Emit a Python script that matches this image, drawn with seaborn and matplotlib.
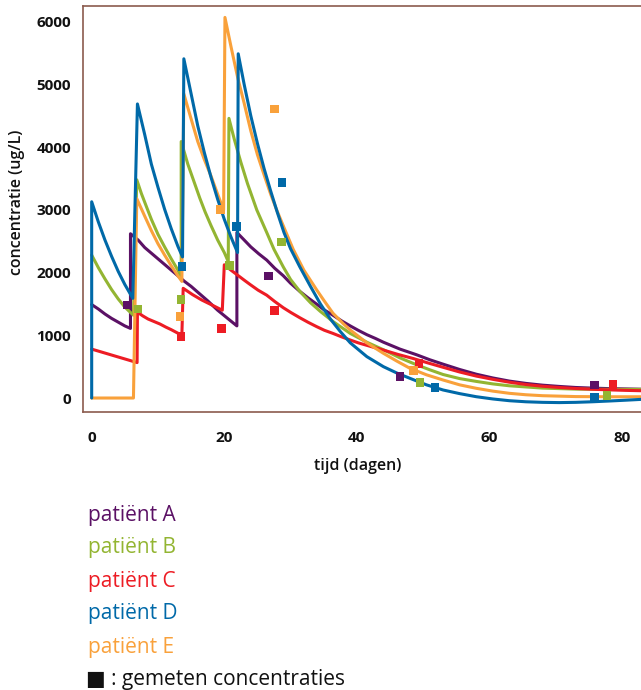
import matplotlib
matplotlib.use("Agg")
import matplotlib.pyplot as plt
import pandas as pd
import seaborn as sns

# ---------------- data ----------------
patients = ["patiënt A", "patiënt B", "patiënt C", "patiënt D", "patiënt E"]
colors = ["#5b1165", "#93b532", "#ed1c24", "#0069a8", "#f9a13b"]

# model curves (time in days, concentration in ug/L)
a_t = [0, 1, 2, 3, 4, 5, 5.85,
       5.85, 7, 8, 9, 10, 11, 12, 13, 14, 15, 16.3, 17.5, 19, 20.5, 21.9,
       21.9, 23, 24, 25.2, 26.4, 27.6, 28.9, 30, 31.4, 32.6, 33.9, 35, 36.4,
       37.7, 39, 40.2, 41.5, 42.8, 44, 46.5, 49, 51, 53, 55.5, 58, 60.5, 63,
       65.5, 68, 70.5, 73, 75.5, 78, 80.5, 83]
a_c = [1490, 1420, 1340, 1270, 1210, 1150, 1110,
       2620, 2520, 2400, 2310, 2220, 2130, 2040, 1950, 1860, 1780, 1660, 1550,
       1400, 1270, 1150,
       2640, 2520, 2410, 2300, 2200, 2070, 1950, 1830, 1700, 1600, 1500, 1410,
       1320, 1230, 1150, 1080, 1010, 950, 890, 780, 690, 610, 540, 455, 380,
       320, 270, 233, 205, 185, 168, 158, 150, 145, 140]

b_t = [0, 1, 2, 3, 4, 5, 6.3,
       6.8, 7.5, 8.3, 9, 10, 11, 12, 13, 13.5,
       13.5, 14.5, 15.5, 16.3, 17.1, 18, 19, 20, 20.6,
       20.7, 21.5, 22.5, 23.5, 24.9, 26.4, 27.5, 28.9, 30, 31.4, 33, 34.5,
       36.4, 39, 41.5, 44, 46.5, 49, 51, 53, 55.5, 58, 60.5, 63, 68, 73, 78, 83]
b_c = [2280, 2080, 1900, 1730, 1580, 1450, 1320,
       3480, 3260, 3040, 2850, 2610, 2410, 2220, 2040, 1910,
       4090, 3730, 3430, 3190, 2970, 2750, 2520, 2320, 2175,
       4460, 4130, 3760, 3420, 3000, 2640, 2370, 2090, 1890, 1700, 1520, 1380,
       1220, 1030, 890, 770, 640, 530, 450, 375, 310, 265, 225, 195, 158, 142,
       138, 137]

c_t = [0, 3.5, 6.85,
       6.9, 7.7, 8.5, 9.4, 10.3, 11.2, 12, 12.8, 13.6,
       13.8, 15.2, 16.6, 18.2, 19.7,
       20.0, 21, 22, 23, 23.9, 25.1, 26.4, 27.6, 28.9, 30.1, 31.4, 32.6, 33.9,
       35.1, 36.4, 37.7, 39, 40.2, 41.5, 42.8, 44, 46.2, 48.5, 50.7, 53, 55.5,
       58, 60.5, 63, 65.5, 68, 70.5, 73, 75.5, 78, 80.5, 83]
c_c = [780, 670, 565,
       1370, 1310, 1260, 1220, 1180, 1130, 1090, 1045, 1000,
       1750, 1650, 1563, 1480, 1400,
       2125, 2040, 1960, 1880, 1810, 1720, 1640, 1540, 1440, 1360, 1280, 1210,
       1140, 1080, 1030, 975, 925, 880, 840, 800, 765, 695, 630, 560, 490, 415,
       350, 298, 252, 215, 188, 168, 152, 140, 130, 122, 116]

d_t = [0, 0, 1, 2, 3, 4, 5, 6.2,
       6.9, 8, 9, 10, 11, 12, 13, 13.7,
       13.9, 15, 16, 17, 18, 19, 20, 21, 22.0,
       22.1, 23, 24, 25, 26, 27, 28, 29, 30, 31.4, 33, 34.5, 36, 37.5, 39,
       41.5, 44, 46, 48, 50.5, 53, 55.5, 58, 60.5, 63, 65.5, 68, 70.5, 73,
       75.5, 78, 80.5, 83]
d_c = [0, 3130, 2810, 2520, 2260, 2020, 1810, 1590,
       4690, 4200, 3730, 3360, 3010, 2700, 2420, 2250,
       5410, 4850, 4340, 3910, 3520, 3170, 2850, 2570, 2320,
       5490, 5000, 4500, 4060, 3660, 3300, 2960, 2640, 2380, 2090, 1780, 1500,
       1260, 1060, 880, 660, 500, 400, 314, 210, 128, 70, 21, -15, -43, -60,
       -69, -73, -69, -60, -48, -35, -21]

e_t = [0, 6.3,
       6.8, 8, 9, 10, 11, 12, 13, 13.6,
       13.9, 15, 16, 17, 18, 19, 19.9,
       20.1, 21, 22, 23, 24, 25, 26, 27, 27.9, 29, 30.4, 32, 33.9, 35, 36.4,
       38, 39, 41.5, 44, 46, 48, 50.5, 53, 55.5, 58, 60.5, 63, 65.5, 68, 73,
       78, 83]
e_c = [0, 0,
       3180, 2900, 2670, 2460, 2280, 2110, 1950, 1860,
       4850, 4450, 4090, 3800, 3540, 3250, 3000,
       6070, 5610, 5120, 4700, 4260, 3880, 3560, 3250, 3000, 2720, 2370, 2040,
       1730, 1560, 1351, 1180, 1085, 880, 713, 590, 474, 370, 287, 210, 155,
       110, 75, 52, 37, 23, 20, 20]

# measured concentrations (squares)
ma_t = [5.4, 26.7, 46.5, 75.8]
ma_c = [1483, 1946, 340, 207]
mb_t = [7.0, 13.5, 20.8, 28.6, 49.5, 77.7]
mb_c = [1419, 1574, 2116, 2488, 244, 40]
mc_t = [13.5, 19.6, 27.6, 49.4, 78.6]
mc_c = [978, 1106, 1393, 553, 212]
md_t = [13.6, 21.8, 28.7, 51.8, 75.8]
md_c = [2094, 2732, 3434, 164, 5]
me_t = [13.3, 19.4, 27.6, 48.5]
me_c = [1297, 3010, 4609, 435]

x_ticks = [0, 20, 40, 60, 80]
y_ticks = [0, 1000, 2000, 3000, 4000, 5000, 6000]
x_label = "tijd (dagen)"
y_label = "concentratie (ug/L)"
footer = "\u25a0 : gemeten concentraties"

# ---------------- build tables ----------------
curves = {"patiënt A": (a_t, a_c), "patiënt B": (b_t, b_c), "patiënt C": (c_t, c_c),
          "patiënt D": (d_t, d_c), "patiënt E": (e_t, e_c)}
meas = {"patiënt A": (ma_t, ma_c), "patiënt B": (mb_t, mb_c), "patiënt C": (mc_t, mc_c),
        "patiënt D": (md_t, md_c), "patiënt E": (me_t, me_c)}
palette = dict(zip(patients, colors))

curve_df = pd.concat([pd.DataFrame({"t": t, "c": c, "patient": p}) for p, (t, c) in curves.items()],
                     ignore_index=True)
meas_df = pd.concat([pd.DataFrame({"t": t, "c": c, "patient": p}) for p, (t, c) in meas.items()],
                    ignore_index=True)

# ---------------- plot ----------------
sns.set_style("white")
plt.rcParams["font.family"] = ["Open Sans", "DejaVu Sans"]

W, H = 641, 690
fig = plt.figure(figsize=(W / 100, H / 100), dpi=100)
ax = fig.add_axes([83 / W, 1 - 412 / H, (W - 83) / W, (412 - 6) / H])

draw_order = ["patiënt A", "patiënt B", "patiënt C", "patiënt E", "patiënt D"]
for p in draw_order:
    sns.lineplot(data=curve_df[curve_df["patient"] == p], x="t", y="c",
                 color=palette[p], estimator=None, sort=False, linewidth=2.2,
                 ax=ax, legend=False)

sns.scatterplot(data=meas_df, x="t", y="c", hue="patient", palette=palette,
                marker="s", s=38, linewidth=0, ax=ax, legend=False, zorder=5)

ax.set_xlim(-1.31, 82.85)
ax.set_ylim(-223, 6252)
ax.set_xticks(x_ticks)
ax.set_yticks(y_ticks)

spine_col = "#8b5b4e"
for side in ["left", "bottom", "top"]:
    ax.spines[side].set_color(spine_col)
    ax.spines[side].set_linewidth(1.2)
ax.spines["right"].set_visible(False)

ax.tick_params(axis="both", direction="out", color=spine_col, width=1.1,
               labelcolor="#111111", labelsize=11)
ax.tick_params(axis="x", length=6.5, pad=7.5)
ax.tick_params(axis="y", length=5, pad=3.5)
for lab in ax.get_xticklabels() + ax.get_yticklabels():
    lab.set_fontweight("bold")

ax.set_xlabel(x_label, fontsize=11.5, fontweight="semibold", color="#111111")
ax.set_ylabel(y_label, fontsize=11.5, fontweight="semibold", color="#111111")
ax.xaxis.label.set_va("center")
ax.yaxis.label.set_va("center")
ax.xaxis.set_label_coords((357.5 - 83) / (W - 83), (412 - 466) / (412 - 6))
ax.yaxis.set_label_coords((16.5 - 83) / (W - 83), (412 - 202) / (412 - 6))

# legend-like text block
legend_y = [516, 548, 581, 614, 647]
for p, yy in zip(patients, legend_y):
    fig.text(88 / W, 1 - yy / H, p, color=palette[p], fontsize=15,
             ha="left", va="center")
fig.text(86 / W, 1 - 679 / H, footer, color="#111111", fontsize=15,
         ha="left", va="center")

fig.savefig("out.png", dpi=100)
